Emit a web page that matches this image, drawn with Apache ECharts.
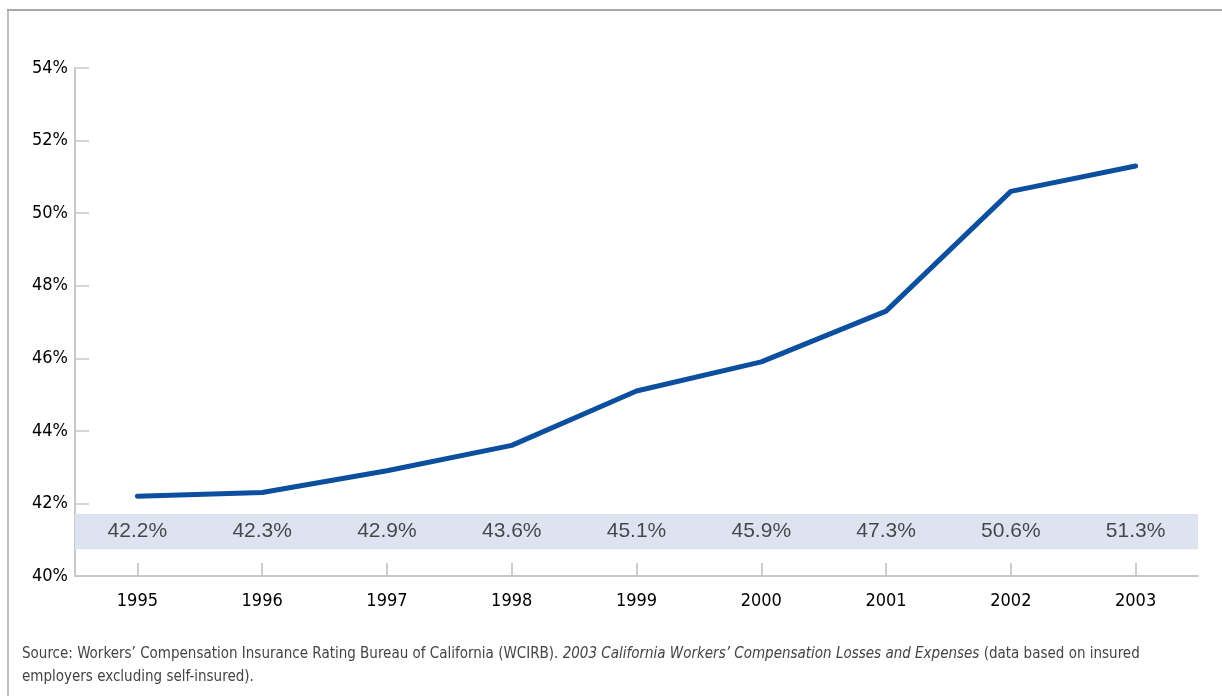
<!DOCTYPE html>
<html>
<head>
<meta charset="utf-8">
<script src="https://cdn.jsdelivr.net/npm/echarts@6/dist/echarts.min.js"></script>
<style>
html,body{margin:0;padding:0;background:#fff;}
#chart{width:1222px;height:696px;}
</style>
</head>
<body>
<div id="chart"></div>
<script>
const years = ['1995','1996','1997','1998','1999','2000','2001','2002','2003'];
const shares = [42.2, 42.3, 42.9, 43.6, 45.1, 45.9, 47.3, 50.6, 51.3];
const yTicks = [40, 42, 44, 46, 48, 50, 52, 54];
const labelBand = [40.74, 41.71];

const condensed = '"Liberation Sans Narrow", "DejaVu Sans Condensed", sans-serif';
const bandMid = (labelBand[0] + labelBand[1]) / 2;

const chart = echarts.init(document.getElementById('chart'));
chart.setOption({
  animation: false,
  backgroundColor: '#fff',
  grid: { left: 75, right: 24, top: 68, bottom: 120 },
  xAxis: {
    type: 'category',
    data: years,
    boundaryGap: true,
    axisLine: { lineStyle: { color: '#c8c8c8', width: 2 } },
    axisTick: { show: true, inside: true, length: 13, alignWithLabel: true, lineStyle: { color: '#bdbdbd', width: 1.5 } },
    axisLabel: { color: '#000', fontFamily: condensed, fontSize: 18, margin: 16 }
  },
  yAxis: {
    type: 'value',
    min: yTicks[0],
    max: yTicks[yTicks.length - 1],
    interval: 2,
    axisLine: { show: true, lineStyle: { color: '#c8c8c8', width: 2 } },
    axisTick: { show: true, inside: true, length: 14, lineStyle: { color: '#c8c8c8', width: 1.5 } },
    splitLine: { show: false },
    axisLabel: { color: '#000', fontFamily: condensed, fontSize: 18, margin: 7, formatter: '{value}%' }
  },
  series: [
    {
      type: 'line',
      data: shares,
      symbol: 'none',
      lineStyle: { color: '#0b4f9e', width: 5, cap: 'round' },
      markArea: {
        silent: true,
        itemStyle: { color: '#dde3f0' },
        data: [[{ yAxis: labelBand[0] }, { yAxis: labelBand[1] }]]
      },
      z: 3
    },
    {
      type: 'scatter',
      data: shares.map(() => bandMid),
      symbolSize: 0,
      silent: true,
      label: {
        show: true,
        position: 'inside',
        formatter: p => shares[p.dataIndex].toFixed(1) + '%',
        color: '#1e1e1e',
        fontFamily: '"Liberation Sans", Arial, sans-serif',
        fontSize: 21
      },
      z: 4
    }
  ],
  graphic: [
    { type: 'line', shape: { x1: 7, y1: 10, x2: 1222, y2: 10 }, style: { stroke: '#a8a8a8', lineWidth: 2 } },
    { type: 'line', shape: { x1: 8, y1: 10, x2: 8, y2: 696 }, style: { stroke: '#a8a8a8', lineWidth: 1.5 } },
    {
      type: 'text', left: 22, top: 647,
      style: {
        text: '{n|Source: Workers\u2019 Compensation Insurance Rating Bureau of California (WCIRB). }{i|2003 California Workers\u2019 Compensation Losses and Expenses}{n| (data based on insured}\n{n|employers excluding self-insured).}',
        rich: {
          n: { fontFamily: condensed, fontSize: 15, fill: '#444', lineHeight: 23 },
          i: { fontFamily: condensed, fontSize: 15, fontStyle: 'italic', fill: '#444', lineHeight: 23 }
        }
      }
    }
  ]
});
</script>
</body>
</html>
